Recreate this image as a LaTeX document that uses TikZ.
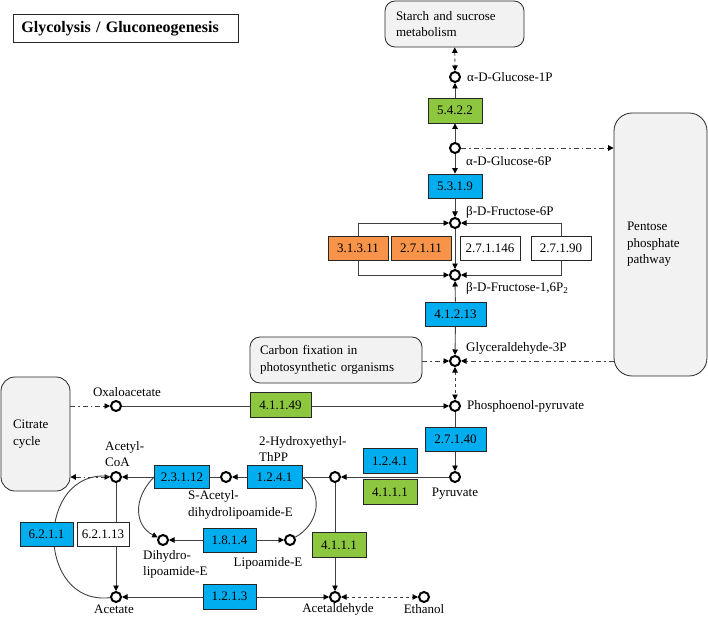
\documentclass[tikz,border=0pt]{standalone}
\usepackage{fontspec}
\setmainfont{Liberation Serif}
\usetikzlibrary{positioning,arrows.meta,backgrounds}
\definecolor{ecblue}{HTML}{00AEEF}
\definecolor{ecgreen}{HTML}{8DC63F}
\definecolor{ecorange}{HTML}{F7944A}
\definecolor{mapgray}{HTML}{F2F2F2}
\definecolor{lnk}{HTML}{404040}
\newcommand{\lblsize}{\fontsize{13}{16.5}\selectfont}
\newcommand{\ttlsize}{\fontsize{16}{19}\selectfont}
\tikzset{
  met/.style={circle,draw=black,fill=white,line width=2pt,minimum size=10pt,inner sep=0pt},
  enz/.style={draw=black!85,line width=0.8pt,minimum width=54pt,minimum height=24pt,inner sep=0pt,font=\lblsize},
  enzb/.style={enz,fill=ecblue},
  enzg/.style={enz,fill=ecgreen},
  enzo/.style={enz,fill=ecorange},
  enzw/.style={enz,fill=white},
  mapbox/.style={draw=black!85,fill=mapgray,rounded corners=10pt,line width=0.8pt,font=\lblsize,align=left,inner ysep=0pt},
  lbl/.style={font=\lblsize,inner sep=1pt,align=left},
  rxn/.style={line width=0.9pt,draw=lnk,-{Triangle[length=5.5pt,width=5.5pt,color=black]}},
  rxn2/.style={line width=0.9pt,draw=lnk,{Triangle[length=5.5pt,width=5.5pt,color=black]}-{Triangle[length=5.5pt,width=5.5pt,color=black]}},
  rxnl/.style={line width=0.9pt,draw=lnk},
  lnkdash/.style={rxn2,dashed},
  lnkdd/.style={rxn,dash pattern=on 5pt off 3pt on 1.5pt off 3pt},
  lnkdd2/.style={rxn2,dash pattern=on 5pt off 3pt on 1.5pt off 3pt},
}

\begin{document}
\begin{tikzpicture}[x=1pt,y=-1pt]
  \useasboundingbox (0,0) rectangle (708,617);
  % title and linked maps
  \node[draw=black!85,line width=0.8pt,anchor=north west,minimum width=225pt,minimum height=28pt,
    text width=209pt,inner xsep=8pt,align=left,font=\ttlsize\bfseries] (title) at (13,14)
    {Glycolysis / Gluconeogenesis};
  \node[mapbox,minimum width=139pt,minimum height=46pt,text width=117pt,inner xsep=11pt] (starch)
    at (454.5,24) {Starch and sucrose\\metabolism};
  \node[mapbox,minimum width=93pt,minimum height=263pt,text width=67pt,inner xsep=13pt,rounded corners=18pt]
    (pentose) at (660.5,244.5) {Pentose\\phosphate\\pathway};
  \node[mapbox,minimum width=172pt,minimum height=46pt,text width=152pt,inner xsep=10pt] (carbon)
    at (336,360) {Carbon fixation in\\photosynthetic organisms};
  \node[mapbox,minimum width=69pt,minimum height=114pt,text width=45pt,inner xsep=12pt,rounded corners=14pt]
    (citrate) at (35.5,434) {Citrate\\cycle};

  % compounds
  \node[met] (g1p) at (455,77) {};
  \node[met] (g6p) at (455,148) {};
  \node[met] (f6p) at (455,223) {};
  \node[met] (f16p) at (455,275) {};
  \node[met] (gap) at (455,361) {};
  \node[met] (pep) at (455,406) {};
  \node[met] (pyr) at (455,477) {};
  \node[met] (oaa) at (116,406) {};
  \node[met] (hthpp) at (335,477) {};
  \node[met] (sacl) at (226,477) {};
  \node[met] (acoa) at (116,477) {};
  \node[met] (dhl) at (163,540) {};
  \node[met] (lip) at (290,540) {};
  \node[met] (acet) at (116,597) {};
  \node[met] (acald) at (335,597) {};
  \node[met] (etoh) at (424,597) {};

  % enzymes
  \node[enzg,minimum height=25pt] (e5422) at (455,110.5) {5.4.2.2};
  \node[enzb] (e5319) at (455,186) {5.3.1.9};
  \node[enzo,minimum width=60pt] (e31311) at (358,248) {3.1.3.11};
  \node[enzo,minimum width=60pt] (e27111) at (421,248) {2.7.1.11};
  \node[enzw,minimum width=60pt] (e271146) at (490,248) {2.7.1.146};
  \node[enzw,minimum width=60pt] (e27190) at (561,248) {2.7.1.90};
  \node[enzb,minimum width=61pt] (e41213) at (455.5,314) {4.1.2.13};
  \node[enzb,minimum width=61pt] (e27140) at (455.5,439) {2.7.1.40};
  \node[enzg,minimum width=61pt,minimum height=25pt] (e41149) at (280.5,405) {4.1.1.49};
  \node[enzb,minimum height=25pt] (e1241a) at (390,461) {1.2.4.1};
  \node[enzg,minimum height=25pt] (e4111a) at (390,492) {4.1.1.1};
  \node[enzb,minimum width=55pt,minimum height=23pt] (e1241b) at (274.5,477) {1.2.4.1};
  \node[enzb,minimum width=55pt,minimum height=23pt] (e23112) at (182,477) {2.3.1.12};
  \node[enzb,minimum width=53pt] (e1814) at (229.5,540) {1.8.1.4};
  \node[enzb,minimum width=53pt] (e6211) at (46.5,534) {6.2.1.1};
  \node[enzw,minimum width=52pt] (e62113) at (103,534) {6.2.1.13};
  \node[enzb,minimum width=53pt,minimum height=25pt] (e1213) at (229.5,596.5) {1.2.1.3};
  \node[enzg,minimum height=25pt] (e4111b) at (339,545) {4.1.1.1};

  % compound names
  \node[lbl,right=5pt of g1p] (lg1p) {α-D-Glucose-1P};
  \node[lbl,anchor=west] (lg6p) at (465,161) {α-D-Glucose-6P};
  \node[lbl,anchor=west] (lf6p) at (465,212) {β-D-Fructose-6P};
  \node[lbl,anchor=west] (lf16p) at (465,288) {β-D-Fructose-1,6P\textsubscript{2}};
  \node[lbl,anchor=west] (lgap) at (465,348) {Glyceraldehyde-3P};
  \node[lbl,right=5pt of pep] (lpep) {Phosphoenol-pyruvate};
  \node[lbl,below=4pt of pyr] (lpyr) {Pyruvate};
  \node[lbl] (loaa) at (127,392) {Oxaloacetate};
  \node[lbl,anchor=west] (lhthpp) at (258,449) {2-Hydroxyethyl-\\ThPP};
  \node[lbl,anchor=west] (lsacl) at (187,505) {S-Acetyl-\\dihydrolipoamide-E};
  \node[lbl,anchor=west] (lacoa) at (104,454) {Acetyl-\\CoA};
  \node[lbl,anchor=west] (ldhl) at (142,564.5) {Dihydro-\\lipoamide-E};
  \node[lbl] (llip) at (268,563) {Lipoamide-E};
  \node[lbl] (lacet) at (114,609) {Acetate};
  \node[lbl] (lacald) at (338,609.5) {Acetaldehyde};
  \node[lbl] (letoh) at (424,609) {Ethanol};

  \begin{scope}[on background layer]
    % glycolysis trunk
    \draw[lnkdash] (starch) -- (g1p);
    \draw[rxn] (e5422) -- (g1p);
    \draw[rxn] (g6p) -- (e5422);
    \draw[lnkdd] (g6p) -- (g6p -| pentose.west);
    \draw[rxn] (g6p) -- (e5319);
    \draw[rxn] (e5319) -- (f6p);
    \draw[rxn] (f6p) -- (f16p);
    \draw[rxn] (e31311.north) |- (f6p);
    \draw[rxn] (e31311.south) |- (f16p);
    \draw[rxn] (e27190.north) |- (f6p);
    \draw[rxn] (e27190.south) |- (f16p);
    \draw[rxn] (e41213) -- (f16p);
    \draw[rxn] (e41213) -- (gap);
    \draw[lnkdd] (carbon.east |- gap) -- (gap);
    \draw[lnkdd] (pentose.west |- gap) -- (gap);
    \draw[lnkdash] (gap) -- (pep);
    \draw[lnkdd] (citrate.east |- oaa) -- (oaa);
    \draw[rxn] (oaa) -- (pep);
    \draw[rxn] (pep) -- (pyr);
    % pyruvate branch
    \draw[rxn] (pyr) -- (hthpp);
    \draw[rxn] (hthpp) -- (sacl);
    \draw[rxn] (sacl) -- (acoa);
    \draw[lnkdd2] (citrate.east |- acoa) -- (acoa);
    \draw[rxn] (acoa) -- (acet);
    \draw[rxn] (hthpp) -- (acald);
    \draw[rxn2] (acet) -- (acald);
    \draw[lnkdash] (acald) -- (etoh);
    \draw[rxn2] (dhl) -- (lip);
    \draw[rxn] (e23112.west) .. controls +(-22,22) and +(-28,-14) .. (dhl);
    \draw[rxnl] (e1241b.east) .. controls +(24,20) and +(26,-14) .. (lip);
    \draw[rxnl] (acoa) .. controls (35,468) and (35,606) .. (acet);
  \end{scope}
\end{tikzpicture}
\end{document}
